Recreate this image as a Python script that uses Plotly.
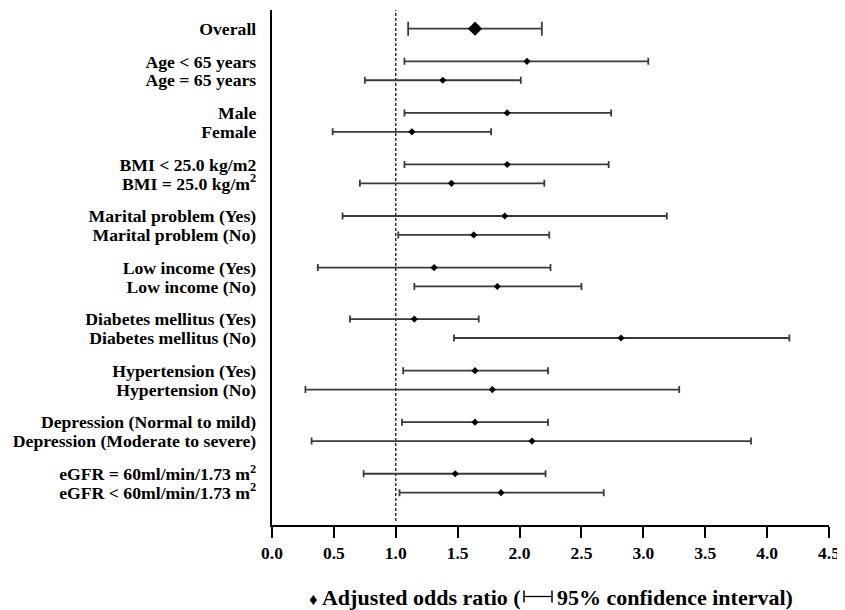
import plotly.graph_objects as go

# ---- data ----
group_labels = [
    ["Overall"],
    ["Age &lt; 65 years", "Age = 65 years"],
    ["Male", "Female"],
    ["BMI &lt; 25.0 kg/m2", "BMI = 25.0 kg/m<sup>2</sup>"],
    ["Marital problem (Yes)", "Marital problem (No)"],
    ["Low income (Yes)", "Low income (No)"],
    ["Diabetes mellitus (Yes)", "Diabetes mellitus (No)"],
    ["Hypertension (Yes)", "Hypertension (No)"],
    ["Depression (Normal to mild)", "Depression (Moderate to severe)"],
    ["eGFR = 60ml/min/1.73 m<sup>2</sup>", "eGFR &lt; 60ml/min/1.73 m<sup>2</sup>"],
]
odds_ratio = [1.64, 2.06, 1.38, 1.90, 1.13, 1.90, 1.45, 1.88, 1.63, 1.31, 1.82,
              1.15, 2.82, 1.64, 1.78, 1.64, 2.10, 1.48, 1.85]
ci_low = [1.10, 1.07, 0.75, 1.07, 0.49, 1.07, 0.71, 0.57, 1.02, 0.37, 1.15,
          0.63, 1.47, 1.06, 0.27, 1.05, 0.32, 0.74, 1.03]
ci_high = [2.18, 3.04, 2.01, 2.74, 1.77, 2.72, 2.20, 3.19, 2.24, 2.25, 2.50,
           1.67, 4.18, 2.23, 3.29, 2.23, 3.87, 2.21, 2.68]
x_ticks = [0.0, 0.5, 1.0, 1.5, 2.0, 2.5, 3.0, 3.5, 4.0, 4.5]
reference_value = 1.0

# ---- row positions (layout) ----
GROUP_GAP = 0.726
labels, ypos = [], []
pos = 0.0
for grp in group_labels:
    for lab in grp:
        labels.append(lab)
        ypos.append(pos)
        pos += 1
    pos += GROUP_GAP

FONT = "Liberation Serif"
LINE_COL = "#3a3a3a"

# page has an 8px body margin: figure coordinates = page coordinates - 8
OFF = 8
W, H = 845 - OFF, 610 - OFF
PL, PR, PT, PB = 272 - OFF, 829 - OFF, 10 - OFF, 525 - OFF  # plot box in figure px

fig = go.Figure()

# overall (first row), bigger diamond
fig.add_trace(go.Scatter(
    x=odds_ratio[:1], y=ypos[:1], mode="markers",
    marker=dict(symbol="diamond", size=11, color="black"),
    error_x=dict(type="data", symmetric=False,
                 array=[ci_high[0] - odds_ratio[0]],
                 arrayminus=[odds_ratio[0] - ci_low[0]],
                 color=LINE_COL, thickness=1.8, width=7),
    showlegend=False, hoverinfo="skip"))

# subgroups
fig.add_trace(go.Scatter(
    x=odds_ratio[1:], y=ypos[1:], mode="markers",
    marker=dict(symbol="diamond", size=5.5, color="black"),
    error_x=dict(type="data", symmetric=False,
                 array=[h - o for h, o in zip(ci_high[1:], odds_ratio[1:])],
                 arrayminus=[o - l for o, l in zip(odds_ratio[1:], ci_low[1:])],
                 color=LINE_COL, thickness=1.8, width=3.5),
    showlegend=False, hoverinfo="skip"))

# reference dashed line
fig.add_shape(type="line", xref="x", yref="paper",
              x0=reference_value, x1=reference_value, y0=0.008, y1=1.0,
              line=dict(color="black", width=1.2, dash="3px,2px"), layer="below")

# helpers: page px -> paper coords
pw, ph = PR - PL, PB - PT
px2x = lambda p: (p - OFF - PL) / pw
py2y = lambda p: (PB - (p - OFF)) / ph

# bottom legend-like caption
cap_y = py2y(597)
fig.add_annotation(xref="paper", yref="paper", x=px2x(523), y=cap_y,
                   xanchor="right", yanchor="middle", showarrow=False,
                   text="<span style='font-size:17px'>♦</span> Adjusted odds ratio (",
                   font=dict(family=FONT, size=22, color="black", weight="bold"))
fig.add_annotation(xref="paper", yref="paper", x=px2x(555), y=cap_y,
                   xanchor="left", yanchor="middle", showarrow=False,
                   text="95% confidence interval)",
                   font=dict(family=FONT, size=22, color="black", weight="bold"))
fig.add_shape(type="line", xref="paper", yref="paper",
              x0=px2x(524), x1=px2x(552), y0=py2y(596.5), y1=py2y(596.5),
              line=dict(color="black", width=1.3))
fig.add_shape(type="line", xref="paper", yref="paper",
              x0=px2x(524), x1=px2x(524), y0=py2y(590.5), y1=py2y(602.5),
              line=dict(color="black", width=1.5))
fig.add_shape(type="line", xref="paper", yref="paper",
              x0=px2x(552), x1=px2x(552), y0=py2y(590.5), y1=py2y(602.5),
              line=dict(color="black", width=1.5))

fig.update_layout(
    width=W, height=H,
    margin=dict(l=PL, r=W - PR, t=PT, b=H - PB, pad=0),
    plot_bgcolor="white", paper_bgcolor="white",
    xaxis=dict(range=[0, 4.5], tickvals=x_ticks, tickformat=".1f",
               showgrid=False, zeroline=False,
               showline=True, linecolor="black", linewidth=2.2,
               ticks="outside", ticklen=11, tickwidth=2.2, tickcolor="black",
               tickfont=dict(family=FONT, size=17.5, color="black", weight="bold")),
    yaxis=dict(range=[pos - GROUP_GAP + 0.71, -0.99], tickvals=ypos, ticktext=labels,
               showgrid=False, zeroline=False,
               showline=True, linecolor="black", linewidth=2.4,
               ticks="", ticklabelstandoff=10,
               tickfont=dict(family=FONT, size=17.7, color="black", weight="bold")),
)

fig.write_html("out.html")
